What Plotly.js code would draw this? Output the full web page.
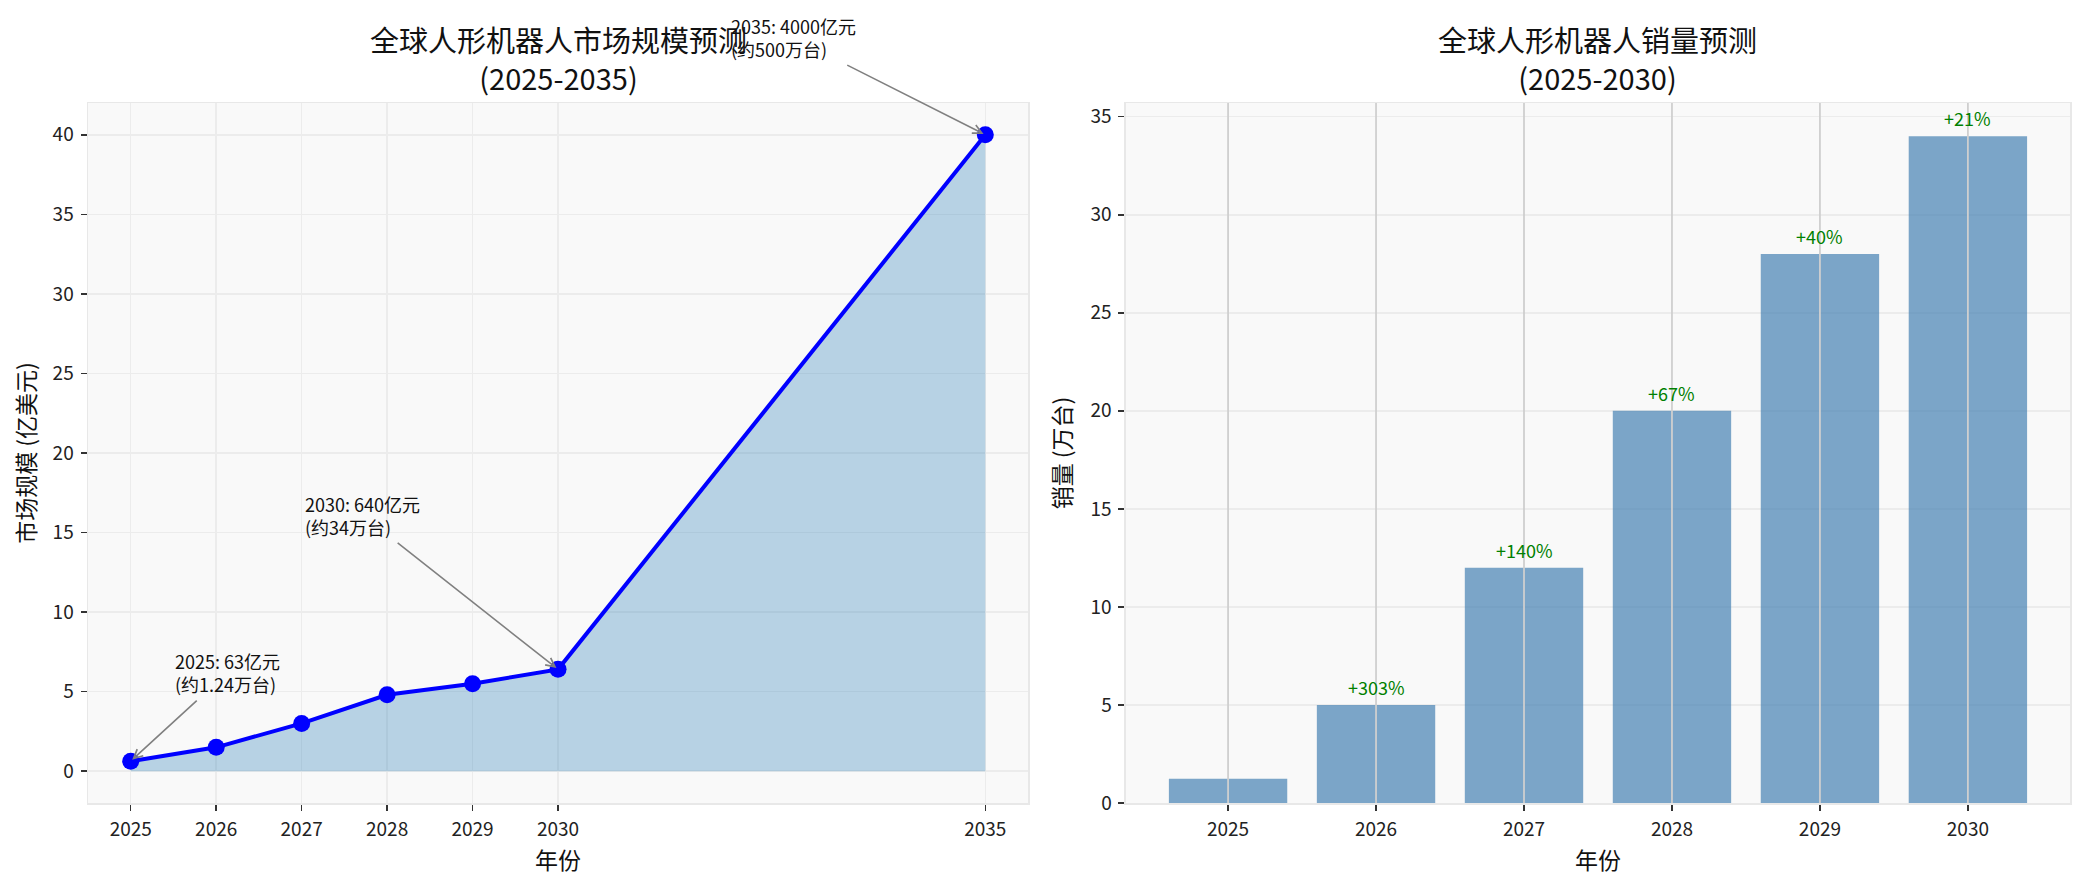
<!DOCTYPE html>
<html>
<head>
<meta charset="utf-8">
<script src="https://cdn.plot.ly/plotly-3.0.1.min.js"></script>
<style>
  html, body { margin: 0; padding: 0; background: #fff; }
  #chart { width: 2084px; height: 889px; }
</style>
</head>
<body>
<div id="chart"></div>
<script>
// market size, 100M USD (left)
const marketYears = [2025, 2026, 2027, 2028, 2029, 2030, 2035];
const marketValues = [0.63, 1.5, 3.0, 4.8, 5.5, 6.4, 40];

// callouts on the market line
const calloutYears = [2025, 2030, 2035];
const calloutValues = [0.63, 6.4, 40];
const calloutText = [
  '2025: 63亿元<br>(约1.24万台)',
  '2030: 640亿元<br>(约34万台)',
  '2035: 4000亿元<br>(约500万台)'
];
const calloutTextX = [2026.13, 2027.71, 2032.75];
const calloutTextY = [6.2, 16.1, 46.1];

// unit sales, 10k units (right)
const salesYears = ['2025', '2026', '2027', '2028', '2029', '2030'];
const salesValues = [1.24, 5, 12, 20, 28, 34];

const FONT = '"Noto Sans CJK SC", "Noto Sans", sans-serif';
const GRID = '#ececec';

// growth labels, year over year
const growth = salesValues.map((v, i) => i === 0 ? null : '+' + Math.round((v / salesValues[i - 1] - 1) * 100) + '%');

const data = [
  {
    x: marketYears, y: marketValues, type: 'scatter', mode: 'none',
    fill: 'tozeroy', fillcolor: 'rgba(31,119,180,0.3)',
    xaxis: 'x', yaxis: 'y', hoverinfo: 'skip'
  },
  {
    x: marketYears, y: marketValues, type: 'scatter', mode: 'lines+markers',
    line: { color: '#0000ff', width: 4 },
    marker: { color: '#0000ff', size: 17 },
    xaxis: 'x', yaxis: 'y', cliponaxis: false
  },
  {
    x: salesYears, y: salesValues, type: 'bar', width: 0.8,
    marker: { color: 'rgba(70,130,180,0.7)', line: { width: 0 } },
    xaxis: 'x2', yaxis: 'y2'
  }
];

const axisCommon = {
  showgrid: true, gridcolor: GRID, gridwidth: 1.5,
  showline: true, linecolor: '#e8e8e8', linewidth: 1.5, mirror: true,
  zeroline: false,
  ticks: 'outside', ticklen: 6, tickwidth: 1.5, tickcolor: '#333',
  tickfont: { family: FONT, size: 19, color: '#222' },
  ticklabelstandoff: 3
};

const annotations = [];

// subplot titles
[['x domain', 'y domain', '全球人形机器人市场规模预测<br>(2025-2035)'],
 ['x2 domain', 'y2 domain', '全球人形机器人销量预测<br>(2025-2030)']].forEach(([xr, yr, t]) => {
  annotations.push({
    xref: xr, yref: yr, x: 0.5, y: 1, xanchor: 'center', yanchor: 'bottom',
    yshift: 3, showarrow: false, align: 'center', text: t,
    font: { family: FONT, size: 29, color: '#111' }
  });
});

// arrows to the market points
calloutYears.forEach((yr, i) => {
  annotations.push({
    xref: 'x', yref: 'y', x: yr, y: calloutValues[i],
    axref: 'x', ayref: 'y', ax: calloutTextX[i], ay: calloutTextY[i],
    xanchor: 'center', yanchor: 'middle', align: 'left',
    text: calloutText[i], showarrow: true,
    arrowhead: 5, arrowsize: 1.1, arrowwidth: 1.6, arrowcolor: '#808080',
    standoff: 2, startstandoff: 3,
    font: { family: FONT, size: 18, color: '#111' }
  });
});

// growth labels above bars (category axis: position by index)
salesYears.forEach((yr, i) => {
  if (!growth[i]) return;
  annotations.push({
    xref: 'x2', yref: 'y2', x: i, y: salesValues[i],
    xanchor: 'center', yanchor: 'bottom', yshift: 3, showarrow: false,
    text: growth[i], font: { family: FONT, size: 18, color: '#008000' }
  });
});

// darker category lines drawn over the bars
const shapes = salesYears.map((yr, i) => ({
  type: 'line', layer: 'above', xref: 'x2', yref: 'y2 domain',
  x0: i, x1: i, y0: 0, y1: 1,
  line: { color: '#cfcfcf', width: 1.8 }
}));

const layout = {
  width: 2084, height: 889,
  paper_bgcolor: '#ffffff', plot_bgcolor: '#f9f9f9',
  showlegend: false,
  margin: { l: 88, r: 14, t: 103, b: 86 },
  font: { family: FONT, color: '#222' },
  xaxis: Object.assign({}, axisCommon, {
    domain: [0, 0.4743], anchor: 'y',
    range: [2024.5, 2035.5],
    tickvals: marketYears, ticktext: marketYears.map(String),
    title: { text: '年份', font: { family: FONT, size: 23, color: '#111' }, standoff: 12 }
  }),
  yaxis: Object.assign({}, axisCommon, {
    domain: [0, 1], anchor: 'x',
    range: [-2, 42], dtick: 5, tick0: 0,
    title: { text: '市场规模 (亿美元)', font: { family: FONT, size: 23, color: '#111' }, standoff: 10 }
  }),
  xaxis2: Object.assign({}, axisCommon, {
    domain: [0.5237, 1], anchor: 'y2',
    type: 'category', range: [-0.69, 5.69], showgrid: false,
    title: { text: '年份', font: { family: FONT, size: 23, color: '#111' }, standoff: 12 }
  }),
  yaxis2: Object.assign({}, axisCommon, {
    domain: [0, 1], anchor: 'x2',
    range: [0, 35.7], dtick: 5, tick0: 0,
    title: { text: '销量 (万台)', font: { family: FONT, size: 23, color: '#111' }, standoff: 12 }
  }),
  annotations: annotations,
  shapes: shapes
};

Plotly.newPlot('chart', data, layout, { staticPlot: true, displayModeBar: false });
</script>
</body>
</html>
